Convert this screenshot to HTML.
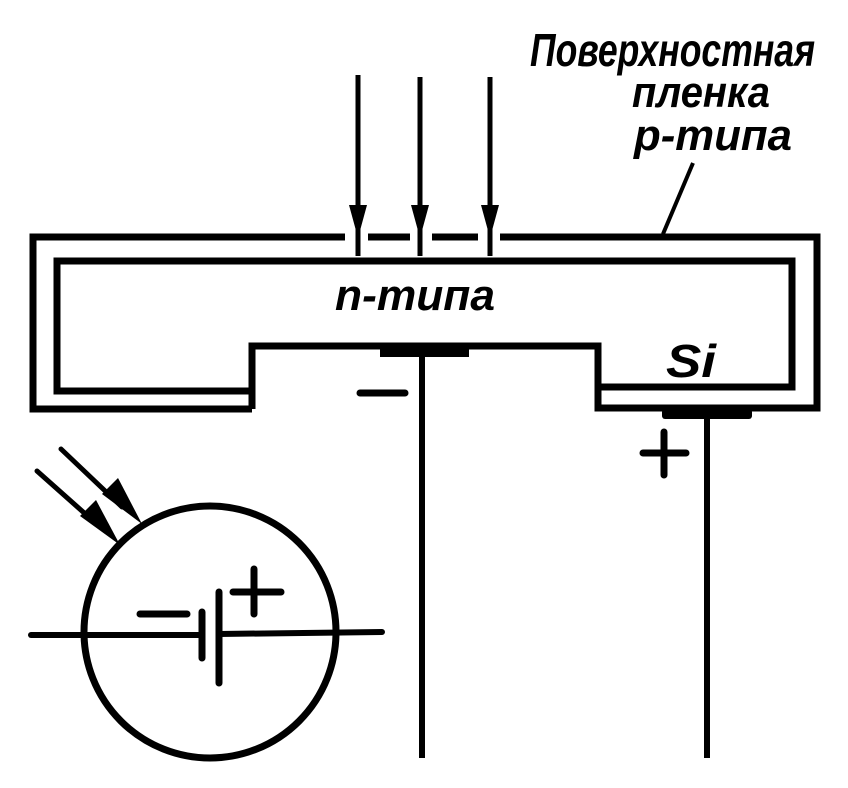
<!DOCTYPE html>
<html><head><meta charset="utf-8"><style>
html,body{margin:0;padding:0;background:#fff;}
svg{display:block;}
text{font-family:"Liberation Sans",sans-serif;font-style:italic;font-weight:bold;fill:#000;}
</style></head><body>
<svg width="848" height="788" viewBox="0 0 848 788" xmlns="http://www.w3.org/2000/svg">
<g fill="none" stroke="#000" stroke-width="7" stroke-linejoin="miter">
<path d="M252,409 H33 V237 H345 M368,237 H410 M432,237 H478 M500,237 H817 V408 H598 V346 H252 V409"/>
<path d="M252,391 H57 V261 H792 V387 H598"/>
</g>
<g stroke="#000" stroke-width="5">
<line x1="358" y1="75" x2="358" y2="256"/>
<line x1="420" y1="77" x2="420" y2="256"/>
<line x1="490" y1="77" x2="490" y2="256"/>
</g>
<g fill="#000">
<polygon points="349,205 367,205 358,238"/>
<polygon points="411,205 429,205 420,238"/>
<polygon points="481,205 499,205 490,238"/>
</g>
<line x1="693" y1="163" x2="663" y2="234" stroke="#000" stroke-width="4"/>
<rect x="380" y="345" width="89" height="12" fill="#000"/>
<line x1="422" y1="345" x2="422" y2="758" stroke="#000" stroke-width="6"/>
<rect x="662" y="409" width="90" height="10" rx="3" fill="#000"/>
<line x1="707" y1="415" x2="707" y2="758" stroke="#000" stroke-width="6"/>
<g stroke="#000" stroke-width="7" stroke-linecap="round">
<line x1="360" y1="393" x2="405" y2="393"/>
<line x1="643" y1="453" x2="686" y2="453"/>
<line x1="664" y1="432" x2="664" y2="475"/>
</g>
<circle cx="210" cy="632" r="126" fill="none" stroke="#000" stroke-width="7"/>
<g stroke="#000" stroke-width="6" stroke-linecap="round">
<line x1="31" y1="635" x2="202" y2="635"/>
<line x1="219" y1="634" x2="382" y2="632"/>
<line x1="202" y1="612" x2="202" y2="658" stroke-width="7"/>
<line x1="219" y1="592" x2="219" y2="683" stroke-width="7"/>
<line x1="140" y1="614" x2="187" y2="614" stroke-width="7"/>
<line x1="233" y1="592" x2="281" y2="592" stroke-width="7"/>
<line x1="254" y1="569" x2="254" y2="614" stroke-width="7"/>
<line x1="37" y1="471" x2="100" y2="527" stroke-width="5"/>
<line x1="61" y1="449" x2="122" y2="507" stroke-width="5"/>
</g>
<g fill="#000">
<polygon points="80,516 96,500 120,545"/>
<polygon points="102,494 118,478 142,524"/>
</g>
<text x="530" y="66" font-size="46" textLength="285" lengthAdjust="spacingAndGlyphs">Поверхностная</text>
<text x="632" y="107" font-size="44" textLength="138" lengthAdjust="spacingAndGlyphs">пленка</text>
<text x="634" y="150" font-size="44" textLength="158" lengthAdjust="spacingAndGlyphs">р-типа</text>
<text x="335" y="310" font-size="44" textLength="160" lengthAdjust="spacingAndGlyphs">n-типа</text>
<text x="666" y="377" font-size="46" textLength="50" lengthAdjust="spacingAndGlyphs">Si</text>
</svg>
</body></html>
